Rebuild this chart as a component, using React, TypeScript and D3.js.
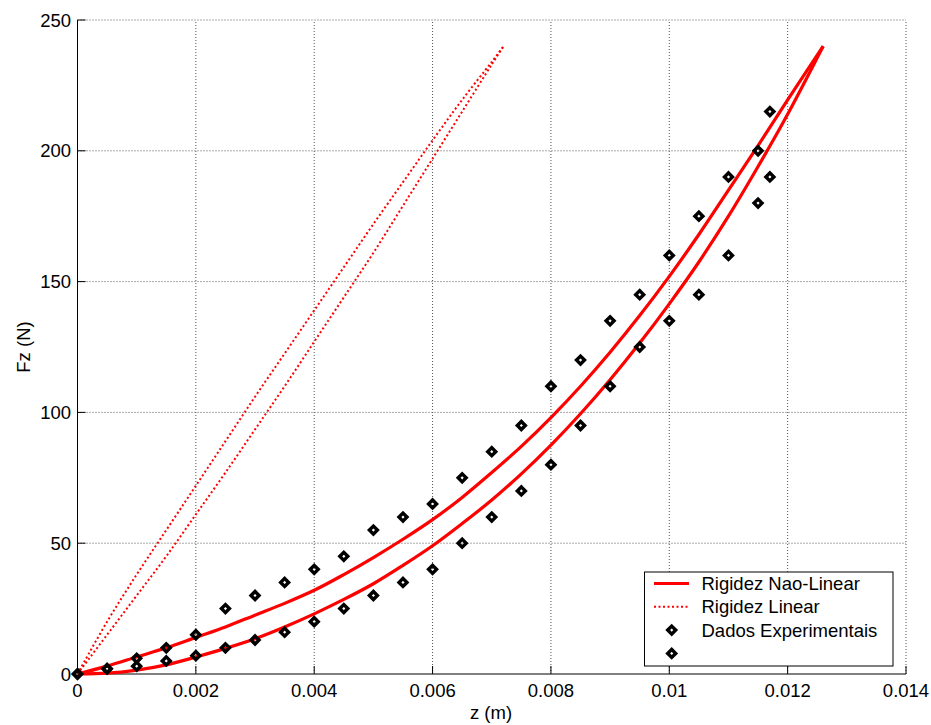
import React from 'react'
import * as d3 from 'd3'

const width = 931
const height = 725
const margin = { top: 20, right: 25, bottom: 51, left: 77.5 }

// tick values
const xTicks = [0, 0.002, 0.004, 0.006, 0.008, 0.01, 0.012, 0.014]
const yTicks = [0, 50, 100, 150, 200, 250]

// nonlinear stiffness loop (two branches)
const nlZ = [0, 0.0005, 0.001, 0.0015, 0.002, 0.0025, 0.003, 0.0035, 0.004, 0.0045, 0.005, 0.0055, 0.006, 0.0065, 0.007, 0.0075, 0.008, 0.0085, 0.009, 0.0095, 0.01, 0.0105, 0.011, 0.0115, 0.012, 0.0126]
const nlUpper = [0, 3, 6.5, 10, 14, 18, 22.5, 27, 32, 38, 44.5, 51.5, 59, 67.5, 77, 87, 98, 110, 123, 137, 152, 168, 185, 202, 219.5, 240]
const nlLower = [0, 0.3, 1.5, 3.5, 6.5, 9.8, 13.5, 18, 23, 28.5, 34.5, 41.5, 49, 57.5, 66.5, 76.5, 87.5, 99.5, 112.5, 126.5, 141.5, 157.5, 175, 194, 214, 240]

// linear stiffness loop
const linZ = [0, 0.0005, 0.001, 0.0015, 0.002, 0.0025, 0.003, 0.0035, 0.004, 0.0045, 0.005, 0.0055, 0.006, 0.0065, 0.007, 0.0072]
const linUpper = [0, 20, 38, 55, 72, 89, 106, 122.5, 139, 155.5, 172, 188, 204, 219.5, 234, 240]
const linLower = [0, 15, 30, 45, 61, 77, 93.5, 110, 127, 144, 161, 179, 197, 215, 233, 240]

// experimental data
const expZ = [0, 0.0005, 0.001, 0.0015, 0.002, 0.0025, 0.003, 0.0035, 0.004, 0.0045, 0.005, 0.0055, 0.006, 0.0065, 0.007, 0.0075, 0.008, 0.0085, 0.009, 0.0095, 0.01, 0.0105, 0.011, 0.0115, 0.0117]
const expUpper = [0, 2, 6, 10, 15, 25, 30, 35, 40, 45, 55, 60, 65, 75, 85, 95, 110, 120, 135, 145, 160, 175, 190, 200, 215]
const expLower = [0, 2, 3, 5, 7, 10, 13, 16, 20, 25, 30, 35, 40, 50, 60, 70, 80, 95, 110, 125, 135, 145, 160, 180, 190]

const legendLabels = ['Rigidez Nao-Linear', 'Rigidez Linear', 'Dados Experimentais', '']

const font = '"Liberation Sans", Arial, sans-serif'
const fontSize = 18.5

const xScale = d3.scaleLinear().domain([0, 0.014]).range([margin.left, width - margin.right])
const yScale = d3.scaleLinear().domain([0, 250]).range([height - margin.bottom, margin.top])
const fmt = d3.format('~g')

const line = d3
    .line<[number, number]>()
    .x((d) => xScale(d[0]))
    .y((d) => yScale(d[1]))
    .curve(d3.curveCatmullRom)

const zip = (zs: number[], fs: number[]) => zs.map((z, i) => [z, fs[i]] as [number, number])

const diamond = d3.symbol(d3.symbolSquare, 32)()

const Diamond = ({ x, y }: { x: number; y: number }) => (
    <path d={diamond} transform={`translate(${x},${y}) rotate(45)`} fill="none" stroke="#000" strokeWidth={3.4} />
)

export default function App() {
    const x0 = margin.left
    const x1 = width - margin.right
    const y0 = height - margin.bottom
    const y1 = margin.top

    const legend = { x: 644.5, y: 572, w: 248.5, h: 94, row: 23.3 }

    return (
        <div style={{ position: 'absolute', left: 0, top: 0 }}>
            <svg width={width} height={height} style={{ display: 'block', background: '#fff' }} fontFamily={font}>
                {/* grid */}
                {xTicks.filter((t) => t > 0).map((t) => (
                    <line key={'gx' + t} x1={xScale(t)} x2={xScale(t)} y1={y0} y2={y1} stroke="#555" strokeWidth={1} strokeDasharray="1,2" />
                ))}
                {yTicks.filter((t) => t > 0).map((t) => (
                    <line key={'gy' + t} x1={x0} x2={x1} y1={yScale(t)} y2={yScale(t)} stroke="#555" strokeWidth={1} strokeDasharray="1,2" />
                ))}

                {/* axes */}
                <line x1={x0} x2={x1} y1={y0} y2={y0} stroke="#808080" strokeWidth={2} />
                <line x1={x0} x2={x0} y1={y0} y2={y1} stroke="#000" strokeWidth={1} />
                {xTicks.map((t) => (
                    <g key={'tx' + t}>
                        <line x1={xScale(t)} x2={xScale(t)} y1={y0} y2={y0 - 8} stroke="#000" strokeWidth={1} />
                        <text x={xScale(t)} y={697} textAnchor="middle" fontSize={fontSize}>{fmt(t)}</text>
                    </g>
                ))}
                {yTicks.map((t) => (
                    <g key={'ty' + t}>
                        <line x1={x0} x2={x0 + 8} y1={yScale(t)} y2={yScale(t)} stroke="#000" strokeWidth={1} />
                        <text x={71} y={yScale(t)} dy="0.36em" textAnchor="end" fontSize={fontSize}>{fmt(t)}</text>
                    </g>
                ))}
                <text x={491} y={712} dy="0.36em" textAnchor="middle" fontSize={fontSize}>z (m)</text>
                <text transform="translate(23,347) rotate(-90)" dy="0.36em" textAnchor="middle" fontSize={fontSize}>Fz (N)</text>

                {/* linear stiffness */}
                <path d={line(zip(linZ, linUpper)) || ''} fill="none" stroke="#ff0000" strokeWidth={2} strokeDasharray="2,2.5" />
                <path d={line(zip(linZ, linLower)) || ''} fill="none" stroke="#ff0000" strokeWidth={2} strokeDasharray="2,2.5" />

                {/* nonlinear stiffness */}
                <path d={line(zip(nlZ, nlUpper)) || ''} fill="none" stroke="#ff0000" strokeWidth={3.2} strokeLinejoin="round" />
                <path d={line(zip(nlZ, nlLower)) || ''} fill="none" stroke="#ff0000" strokeWidth={3.2} strokeLinejoin="round" />

                {/* experimental data */}
                {expZ.map((z, i) => (
                    <g key={'e' + i}>
                        <Diamond x={xScale(z)} y={yScale(expUpper[i])} />
                        <Diamond x={xScale(z)} y={yScale(expLower[i])} />
                    </g>
                ))}

                {/* legend */}
                <rect x={legend.x} y={legend.y} width={legend.w} height={legend.h} fill="#fff" stroke="#000" strokeWidth={1} />
                {legendLabels.map((label, i) => {
                    const cy = legend.y + 11.5 + i * legend.row
                    return (
                        <g key={'l' + i}>
                            {i === 0 && <line x1={654} x2={689} y1={cy} y2={cy} stroke="#ff0000" strokeWidth={3.2} />}
                            {i === 1 && <line x1={654} x2={689} y1={cy} y2={cy} stroke="#ff0000" strokeWidth={2} strokeDasharray="2,2.5" />}
                            {i >= 2 && <Diamond x={671.7} y={cy} />}
                            <text x={701.5} y={cy} dy="0.36em" fontSize={fontSize}>{label}</text>
                        </g>
                    )
                })}
            </svg>
        </div>
    )
}
